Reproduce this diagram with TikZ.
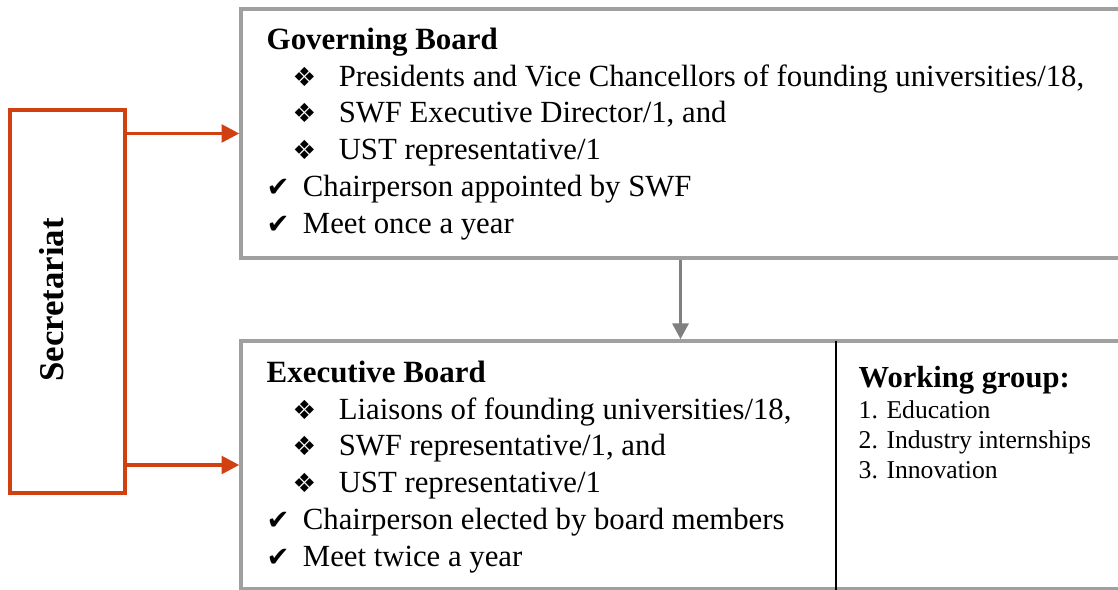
\documentclass[tikz,border=0pt]{standalone}
\usepackage{fontspec}
\setmainfont{Liberation Serif}
\newfontfamily\symf{DejaVu Sans}
\usetikzlibrary{arrows.meta}
\definecolor{secred}{RGB}{208,64,16}
\definecolor{boxgray}{RGB}{160,160,160}
\definecolor{arrgray}{RGB}{128,128,128}
\newcommand{\diaitem}[1]{\hspace*{7.4pt}\makebox[13.1pt][l]{\fontsize{7.5}{7.5}\symf ❖}#1}
\newcommand{\chkitem}[1]{\makebox[10.3pt][l]{\fontsize{7.8}{7.8}\symf ✔}#1}
\tikzset{
  board/.style={draw=boxgray, line width=1pt, rectangle, minimum width=8.79cm, inner sep=0pt},
  secbox/.style={draw=secred, line width=1pt, rectangle, minimum width=1.15cm, minimum height=3.83cm, inner sep=0pt},
  boardtext/.style={align=left, inner sep=0pt, font=\fontsize{8.75}{10.5}\selectfont},
  grouptext/.style={align=left, inner sep=0pt, font=\fontsize{7.3}{8.5}\selectfont},
  redarrow/.style={draw=secred, line width=1pt, -{Triangle[length=5pt,width=5pt]}},
  grayarrow/.style={draw=arrgray, line width=1pt, -{Triangle[length=4.5pt,width=4.5pt]}}
}
\begin{document}
\begin{tikzpicture}
\clip (0,0) rectangle (11.18,-5.90);
\node[secbox] (sec) at (.675,-3.015) {};
\node[rotate=90, font=\fontsize{9.9}{10}\selectfont\bfseries] (sectext) at (.52,-3.0) {Secretariat};
\node[board, minimum height=2.49cm] (gov) at (6.805,-1.335) {};
\node[board, minimum height=2.48cm] (exec) at (6.805,-4.65) {};
\node[boardtext, anchor=north west] (govtext) at (2.66,-.27) {\textbf{\fontsize{8.8}{10.5}\selectfont Governing Board}\\
\diaitem{Presidents and Vice Chancellors of founding universities/18,}\\
\diaitem{SWF Executive Director/1, and}\\
\diaitem{UST representative/1}\\
\chkitem{Chairperson appointed by SWF}\\
\chkitem{Meet once a year}};
\node[boardtext, anchor=north west] (exectext) at (2.66,-3.6) {\textbf{\fontsize{8.8}{10.5}\selectfont Executive Board}\\
\diaitem{Liaisons of founding universities/18,}\\
\diaitem{SWF representative/1, and}\\
\diaitem{UST representative/1}\\
\chkitem{Chairperson elected by board members}\\
\chkitem{Meet twice a year}};
\node[grouptext, anchor=north west] (wg) at (8.58,-3.66) {\textbf{\fontsize{8.7}{8.5}\selectfont Working group:}\\[.3pt]
1. Education\\
2. Industry internships\\
3. Innovation};
\coordinate (divtop) at (8.36,-3.41);
\coordinate (divbot) at (8.36,-5.90);
\draw[line width=.45pt] (divtop) -- (divbot);
\draw[redarrow] (sec.east |- gov.west) -- (gov.west);
\draw[redarrow] (sec.east |- exec.west) -- (exec.west);
\draw[grayarrow] (gov.south) -- (exec.north);
\end{tikzpicture}
\end{document}
